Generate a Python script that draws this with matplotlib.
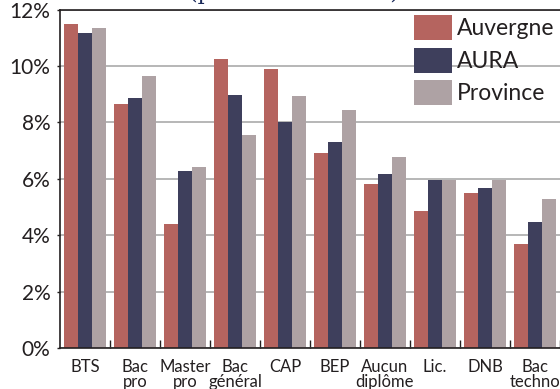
import matplotlib
matplotlib.use("Agg")
import matplotlib.pyplot as plt
import numpy as np

# Taux par niveau de diplôme (%)
categories = ["BTS", "Bac\npro", "Master\npro", "Bac\ngénéral", "CAP", "BEP",
              "Aucun\ndiplôme", "Lic.", "DNB", "Bac\ntechno"]
auvergne = [11.47, 8.64, 4.39, 10.23, 9.88, 6.90, 5.81, 4.85, 5.49, 3.68]
aura = [11.15, 8.85, 6.27, 8.96, 8.00, 7.29, 6.16, 5.95, 5.66, 4.46]
province = [11.33, 9.63, 6.42, 7.54, 8.92, 8.42, 6.76, 5.95, 5.95, 5.27]
series_names = ["Auvergne", "AURA", "Province"]
y_ticks = [0, 2, 4, 6, 8, 10, 12]

colors = ["#B5645F", "#3E3F5C", "#AEA2A4"]

plt.rcParams["font.family"] = ["Lato", "DejaVu Sans"]

fig = plt.figure(figsize=(5.6, 3.89), dpi=100)
ax = fig.add_axes([60 / 560, 1 - 348 / 389, 1 - 60 / 560, (348 - 9.5) / 389])

x = np.arange(len(categories))
w = 0.28
for i, (vals, name, c) in enumerate(zip([auvergne, aura, province], series_names, colors)):
    ax.bar(x + (i - 1) * w, vals, width=w, color=c, label=name, zorder=2)

ax.set_xlim(-0.5, len(categories) - 0.5)
ax.set_ylim(0, 12)
ax.set_yticks(y_ticks)
ax.set_yticklabels([f"{t}%" for t in y_ticks], fontsize=15, color="#231F20")
ax.yaxis.grid(True, color="#A3A3A3", linewidth=1.1, zorder=0)
ax.set_axisbelow(True)

ax.set_xticks(x)
ax.set_xticklabels(categories, fontsize=12, color="#231F20", linespacing=0.88)
ax.set_xticks(np.arange(len(categories)) + 0.5, minor=True)
ax.tick_params(axis="x", which="major", length=0, pad=8)
ax.tick_params(axis="x", which="minor", direction="in", length=6, width=1.0, color="#231F20")
ax.tick_params(axis="y", length=2, width=1.0, pad=5, color="#231F20")

for side in ["left", "top", "bottom"]:
    ax.spines[side].set_color("#231F20")
    ax.spines[side].set_linewidth(1.2)
ax.spines["right"].set_visible(False)

leg = ax.legend(loc="upper right", bbox_to_anchor=(1.0, 1.0), frameon=False,
                fontsize=16.5, handlelength=1.65, handleheight=1.3,
                handletextpad=0.2, labelspacing=0.32, borderaxespad=0.15,
                borderpad=0.1, labelcolor="#231F20")

fig.text(0.525, 1 + 0.5 / 389, "(part des sortants)", ha="center",
         va="baseline", fontsize=16, color="#1B2A5A", family="DejaVu Serif")

fig.savefig("out.png", dpi=100)
